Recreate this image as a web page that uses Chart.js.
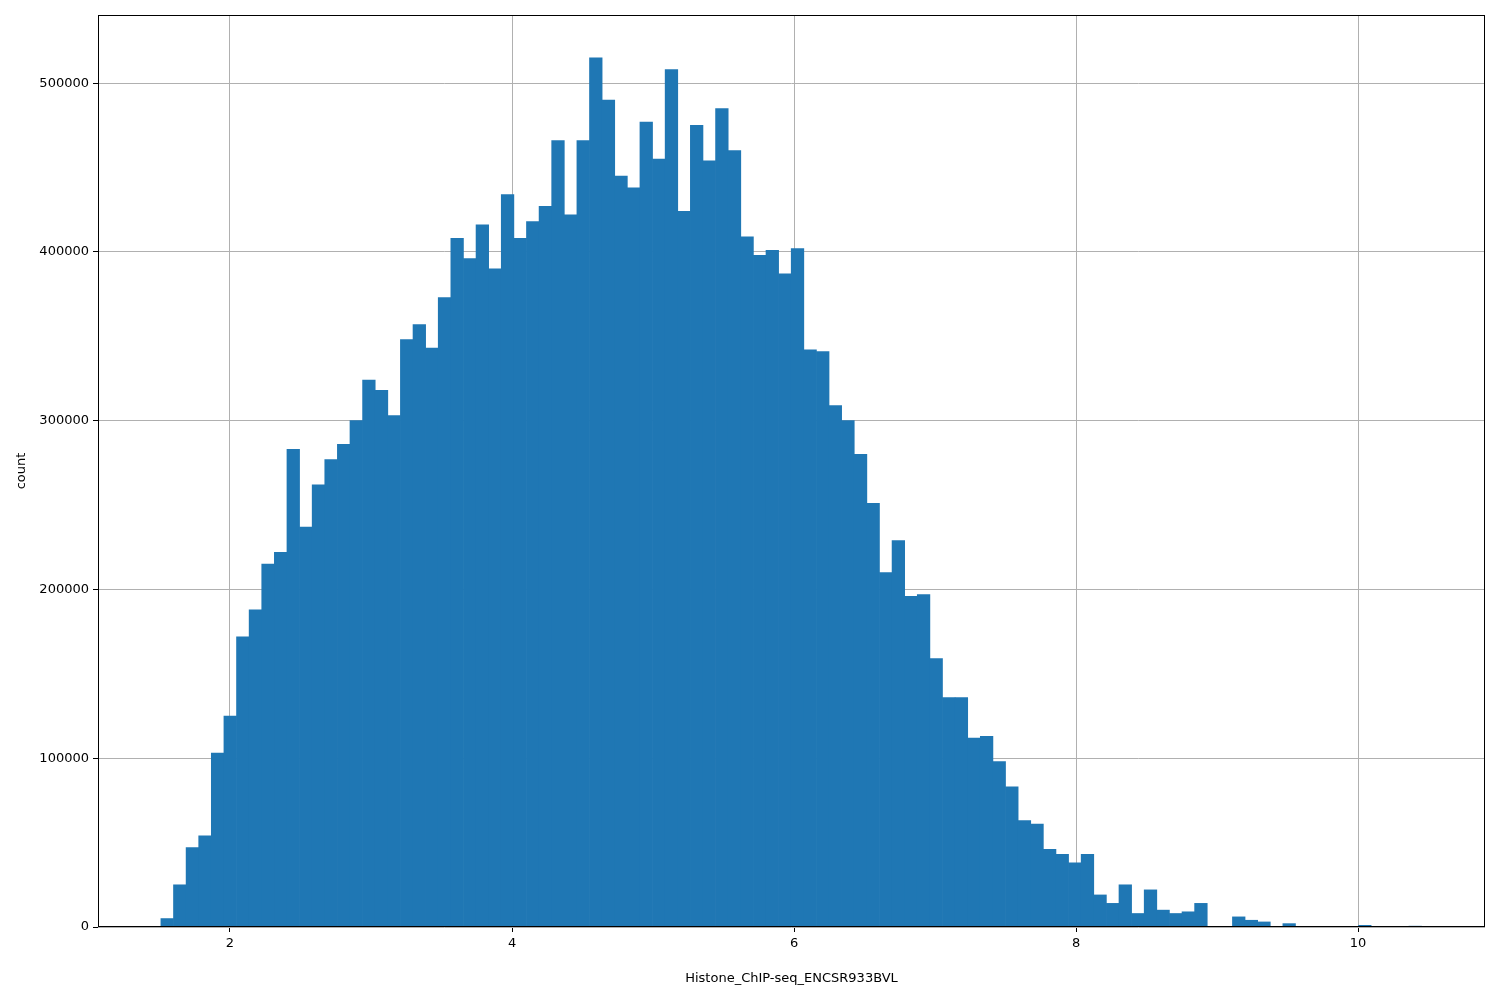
<!DOCTYPE html>
<html><head><meta charset="utf-8">
<script src="https://cdn.jsdelivr.net/npm/chart.js@4"></script>
<style>html,body{margin:0;padding:0;background:#fff}#w{width:1500px;height:1000px}</style>
</head><body><div id="w"><canvas id="c" width="1500" height="1000"></canvas></div>
<script>
const binStart = 1.51;
const binWidth = 0.0894;
const counts = [5000,25000,47000,54000,103000,125000,172000,188000,215000,222000,
283000,237000,262000,277000,286000,300000,324000,318000,303000,348000,
357000,343000,373000,408000,396000,416000,390000,434000,408000,418000,
427000,466000,422000,466000,515000,490000,445000,438000,477000,455000,
508000,424000,475000,454000,485000,460000,409000,398000,401000,387000,
402000,342000,341000,309000,300000,280000,251000,210000,229000,196000,
197000,159000,136000,136000,112000,113000,98000,83000,63000,61000,
46000,43000,38000,43000,19000,14000,25000,8000,22000,10000,
8000,9000,14000,0,0,6000,4000,3000,0,2000,
0,0,0,0,0,1000,0,0,0,500];
const xTicks = [2,4,6,8,10];
const yTicks = [0,100000,200000,300000,400000,500000];
const xLabel = 'Histone_ChIP-seq_ENCSR933BVL';
const yLabel = 'count';

const data = counts.map((v,i)=>({x: binStart + binWidth*(i+0.5), y: v}));
const font = {family:'DejaVu Sans', size:13};
const frame = {id:'frame', afterDraw(c){const a=c.chartArea,x=c.ctx;x.save();x.strokeStyle='#000';x.lineWidth=1;x.strokeRect(a.left+0.5,a.top+0.5,a.right-a.left-1,a.bottom-a.top-1);x.restore();}};
new Chart(document.getElementById('c'),{
  type:'bar',
  data:{datasets:[{data, backgroundColor:'#1f77b4', borderWidth:0, barPercentage:1, categoryPercentage:1, grouped:false}]},
  options:{responsive:false, animation:false, devicePixelRatio:1,
    layout:{padding:{top:15,right:15,left:10,bottom:10}},
    plugins:{legend:{display:false}, tooltip:{enabled:false}},
    scales:{
      x:{type:'linear', min:1.064, max:10.90, offset:false,
        afterBuildTicks(s){s.ticks=xTicks.map(v=>({value:v}));},
        afterFit(s){s.height=63;},
        grid:{offset:false, color:'#b0b0b0', drawTicks:true, tickLength:5, tickColor:'#000'},
        border:{display:false},
        ticks:{color:'#000', font, maxRotation:0, padding:4},
        title:{display:true, text:xLabel, color:'#000', font, padding:{top:12}}},
      y:{min:0, max:540380,
        afterBuildTicks(s){s.ticks=yTicks.map(v=>({value:v}));},
        afterFit(s){s.width=88;},
        grid:{offset:false, color:'#b0b0b0', tickLength:5, tickColor:'#000'},
        border:{display:false},
        ticks:{color:'#000', font, padding:4, callback:v=>String(v)},
        title:{display:true, text:yLabel, color:'#000', font, padding:{bottom:6}}}
    }},
  plugins:[frame]
});
</script></body></html>
